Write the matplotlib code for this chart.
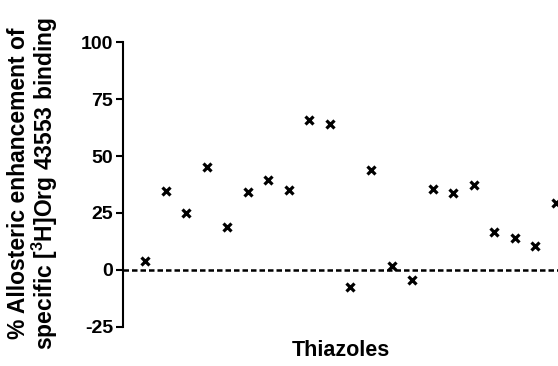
import matplotlib
matplotlib.use("Agg")
import matplotlib.pyplot as plt
import numpy as np

plt.rcParams['font.family'] = ['Liberation Sans', 'DejaVu Sans']
plt.rcParams['font.weight'] = 'bold'
plt.rcParams['axes.unicode_minus'] = False
plt.rcParams['mathtext.fontset'] = 'custom'
plt.rcParams['mathtext.rm'] = 'Liberation Sans:bold'
plt.rcParams['mathtext.bf'] = 'Liberation Sans:bold'
plt.rcParams['mathtext.default'] = 'bf'

# % enhancement for each thiazole compound
compound = np.arange(1, 22)
enhancement = [4, 34.5, 25, 45, 19, 34.3, 39.5, 35.3, 66, 64, -7.5,
               44, 1.8, -4.5, 35.5, 33.8, 37.4, 16.7, 14.2, 10.5, 29.2]
y_ticks = [-25, 0, 25, 50, 75, 100]

fig = plt.figure(figsize=(5.58, 3.66), dpi=100)
ax = fig.add_axes([0.2204, 0.1066, 0.7796, 0.7786])

ax.plot(compound, enhancement, linestyle='None', marker='x', color='black',
        markersize=6, markeredgewidth=2.3, clip_on=True)
ax.axhline(0, color='black', linewidth=1.8, linestyle=(0, (2.2, 1.2)))

ax.set_xlim(-0.07, 21.1)
ax.set_ylim(-25, 100)
ax.set_yticks(y_ticks)
ax.set_xticks([])
for s in ['top', 'right', 'bottom']:
    ax.spines[s].set_visible(False)
ax.spines['left'].set_linewidth(1.5)
ax.tick_params(axis='y', direction='out', length=5, width=1.5, labelsize=14, pad=2)
for lbl in ax.get_yticklabels():
    lbl.set_fontweight('bold')

ax.set_ylabel('% Allosteric enhancement of\nspecific [$^{3}$H]Org 43553 binding',
              fontsize=16.5, fontweight='bold', linespacing=1.0)
ax.yaxis.set_label_coords(-0.145, 0.505)
ax.set_xlabel('Thiazoles', fontsize=15.5, fontweight='bold')
ax.xaxis.set_label_coords(0.5, -0.045)
ax.xaxis.label.set_va('top')

fig.savefig('out.png', dpi=100)
